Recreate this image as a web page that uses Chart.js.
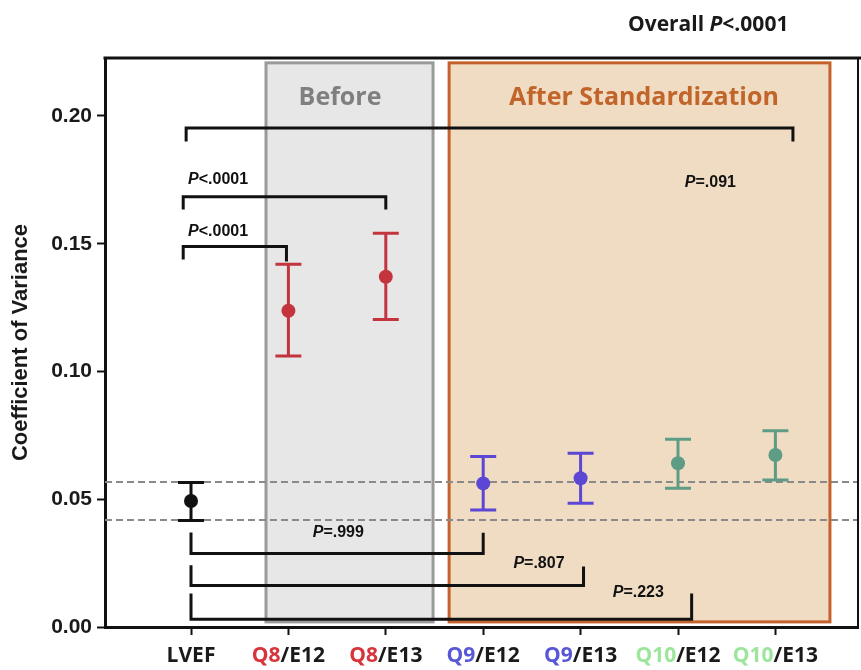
<!DOCTYPE html>
<html><head><meta charset="utf-8">
<script src="https://cdn.jsdelivr.net/npm/chart.js@4/dist/chart.umd.min.js"></script>
<style>html,body{margin:0;padding:0;background:#fff}canvas{display:block}</style>
</head><body>
<canvas id="c" width="861" height="670"></canvas>
<script>
// ---- data ----
const categories = ['LVEF','Q8/E12','Q8/E13','Q9/E12','Q9/E13','Q10/E12','Q10/E13'];
const means = [0.0493, 0.1238, 0.1371, 0.0562, 0.0582, 0.0641, 0.0673];
const upper = [0.0566, 0.1420, 0.1541, 0.0667, 0.0680, 0.0735, 0.0768];
const lower = [0.0417, 0.1061, 0.1204, 0.0458, 0.0484, 0.0543, 0.0575];
const markerColors = ['#111111','#c4343f','#c4343f','#5b47d3','#5b47d3','#5e9c86','#5e9c86'];
const prefixColors = {Q8:'#d8343c', Q9:'#5757d8', Q10:'#9ce69c'};
const yTickValues = [0, 0.05, 0.10, 0.15, 0.20];
const yTickLabels = ['0.00','0.05','0.10','0.15','0.20'];
const referenceLines = [0.0566, 0.0417];
const regionNames = ['Before','After Standardization'];
const regionFrom = [0.77, 2.65];
const regionTo = [2.485, 6.56];
const regionTop = [0.2208, 0.2208];
const regionBottom = [0.0020, 0.0020];
const regionTitleX = [1.53, 4.65];
const regionTitleY = [0.2072, 0.2072];
const bracket1 = [[-0.05,0.1906],[-0.05,0.1953],[6.18,0.1953],[6.18,0.1906]];
const bracket2 = [[-0.08,0.1640],[-0.08,0.1684],[2.0,0.1684],[2.0,0.1640]];
const bracket3 = [[-0.08,0.1444],[-0.08,0.1489],[0.98,0.1489],[0.98,0.1436]];
const bracket4 = [[0,0.0364],[0,0.0288],[3.0,0.0288],[3.0,0.0363]];
const bracket5 = [[0,0.0236],[0,0.0162],[4.03,0.0162],[4.03,0.0231]];
const bracket6 = [[0,0.0125],[0,0.0030],[5.14,0.0030],[5.14,0.0125]];
const pLabels = ['P<.0001','P<.0001','P=.091','P=.999','P=.807','P=.223'];
const pLabelX = [-0.03, -0.03, 5.07, 1.25, 3.31, 4.33];
const pLabelY = [0.1753, 0.1547, 0.1738, 0.0368, 0.0250, 0.0133];
const overallText = ['Overall ', 'P', '<.0001'];

// ---- chart ----
const xMin = -0.883, xMax = 6.848, yMin = 0, yMax = 0.2227;

function bracketDataset(pts){
  return {type:'line', data: pts.map(p=>({x:p[0], y:p[1]})), borderColor:'#111', borderWidth:3,
    pointRadius:0, fill:false, tension:0, borderJoinStyle:'miter', borderCapStyle:'square', order:2};
}

const decor = {
  id:'decor',
  beforeDatasetsDraw(chart){
    const {ctx, chartArea:a, scales:{x, y}} = chart;
    ctx.save();
    const fills = ['#e7e7e7','#f0dcc3'];
    const strokes = ['#9a9a9a','#c5612a'];
    for (let i=0;i<regionNames.length;i++){
      const l = x.getPixelForValue(regionFrom[i]), r = x.getPixelForValue(regionTo[i]);
      const t = y.getPixelForValue(regionTop[i]), b = y.getPixelForValue(regionBottom[i]);
      ctx.fillStyle = fills[i];
      ctx.fillRect(l,t,r-l,b-t);
      ctx.lineWidth = 3; ctx.strokeStyle = strokes[i];
      ctx.strokeRect(l,t,r-l,b-t);
    }
    ctx.font = 'bold 25px "Open Sans", "Liberation Sans", sans-serif';
    ctx.textAlign='center'; ctx.textBaseline='middle';
    const tcols = ['#7f7f7f','#c2652b'];
    for (let i=0;i<regionNames.length;i++){
      ctx.fillStyle = tcols[i];
      ctx.fillText(regionNames[i], x.getPixelForValue(regionTitleX[i]), y.getPixelForValue(regionTitleY[i]));
    }
    ctx.setLineDash([7,4]); ctx.lineWidth=2; ctx.strokeStyle='#8a8a8a';
    referenceLines.forEach(v=>{
      const py = Math.round(y.getPixelForValue(v));
      ctx.beginPath(); ctx.moveTo(a.left, py); ctx.lineTo(a.right, py); ctx.stroke();
    });
    ctx.setLineDash([]);
    ctx.lineWidth = 3;
    for (let i=0;i<categories.length;i++){
      const px = x.getPixelForValue(i);
      const t = y.getPixelForValue(upper[i]), b = y.getPixelForValue(lower[i]);
      ctx.strokeStyle = markerColors[i];
      ctx.beginPath();
      ctx.moveTo(px,t); ctx.lineTo(px,b);
      ctx.moveTo(px-13,t); ctx.lineTo(px+13,t);
      ctx.moveTo(px-13,b); ctx.lineTo(px+13,b);
      ctx.stroke();
    }
    ctx.restore();
  },
  afterDraw(chart){
    const {ctx, chartArea:a, scales:{x, y}} = chart;
    ctx.save();
    ctx.strokeStyle='#111';
    ctx.lineWidth=3; ctx.beginPath(); ctx.moveTo(a.left-1.5, a.top); ctx.lineTo(861, a.top); ctx.stroke();
    ctx.lineWidth=2; ctx.beginPath(); ctx.moveTo(a.right, a.top); ctx.lineTo(a.right, a.bottom); ctx.stroke();
    ctx.textBaseline='middle'; ctx.textAlign='left'; ctx.fillStyle='#111';
    for (let i=0;i<pLabels.length;i++){
      let px = x.getPixelForValue(pLabelX[i]); const py = y.getPixelForValue(pLabelY[i]);
      ctx.font = 'italic bold 16px "Liberation Sans", Arial, sans-serif';
      ctx.fillText(pLabels[i][0], px, py);
      px += ctx.measureText(pLabels[i][0]).width;
      ctx.font = 'bold 16px "Liberation Sans", Arial, sans-serif';
      ctx.fillText(pLabels[i].slice(1), px, py);
    }
    ctx.font = 'bold 21px "Open Sans", "Liberation Sans", sans-serif';
    ctx.textBaseline='middle';
    categories.forEach((cat,i)=>{
      const k = cat.indexOf('/');
      const parts = k>=0 ? [cat.slice(0,k), cat.slice(k)] : [cat];
      const cols = k>=0 ? [prefixColors[parts[0]], '#1a1a1a'] : ['#1a1a1a'];
      const total = parts.reduce((s,p)=>s+ctx.measureText(p).width,0);
      let px = x.getPixelForValue(i) - total/2;
      parts.forEach((p,j)=>{ ctx.fillStyle=cols[j]; ctx.fillText(p, px, 656); px += ctx.measureText(p).width; });
    });
    const fonts = ['bold 21px "Open Sans", sans-serif','italic bold 21px "Open Sans", sans-serif','bold 21px "Open Sans", sans-serif'];
    let ox = 628; ctx.fillStyle='#1a1a1a';
    overallText.forEach((t,j)=>{ ctx.font=fonts[j]; ctx.fillText(t, ox, 25); ox += ctx.measureText(t).width; });
    ctx.restore();
  }
};

new Chart(document.getElementById('c'), {
  type:'scatter',
  data:{ datasets:[
    {type:'scatter', data: means.map((m,i)=>({x:i, y:m})), pointRadius:7, pointHoverRadius:7,
      pointBackgroundColor: markerColors, pointBorderColor: markerColors, borderWidth:0, order:1},
    bracketDataset(bracket1), bracketDataset(bracket2), bracketDataset(bracket3),
    bracketDataset(bracket4), bracketDataset(bracket5), bracketDataset(bracket6)
  ]},
  options:{
    responsive:false, animation:false,
    layout:{autoPadding:false, padding:{top:58, right:3, left:0, bottom:0}},
    plugins:{legend:{display:false}, tooltip:{enabled:false}},
    scales:{
      x:{type:'linear', min:xMin, max:xMax,
        afterBuildTicks(s){ s.ticks = categories.map((c,i)=>({value:i})); },
        afterFit(s){ s.height = 43; },
        ticks:{display:false},
        grid:{drawOnChartArea:false, tickLength:8, tickWidth:2, tickColor:'#111'},
        border:{color:'#111', width:3}
      },
      y:{type:'linear', min:yMin, max:yMax,
        afterBuildTicks(s){ s.ticks = yTickValues.map(v=>({value:v})); },
        afterFit(s){ s.width = 105; },
        ticks:{padding:5, color:'#1a1a1a', font:{family:'"Liberation Sans", Arial, sans-serif', size:21, weight:'bold'},
          callback(v){ const k = yTickValues.findIndex(t=>Math.abs(t-v)<1e-9); return k>=0 ? yTickLabels[k] : ''; }},
        grid:{drawOnChartArea:false, tickLength:8, tickWidth:2, tickColor:'#111'},
        border:{color:'#111', width:3},
        title:{display:true, text:'Coefficient of Variance', color:'#1a1a1a', padding:{top:8, bottom:0},
          font:{family:'"Liberation Sans", Arial, sans-serif', size:22, weight:'bold'}}
      }
    }
  },
  plugins:[decor]
});
</script>
</body></html>
